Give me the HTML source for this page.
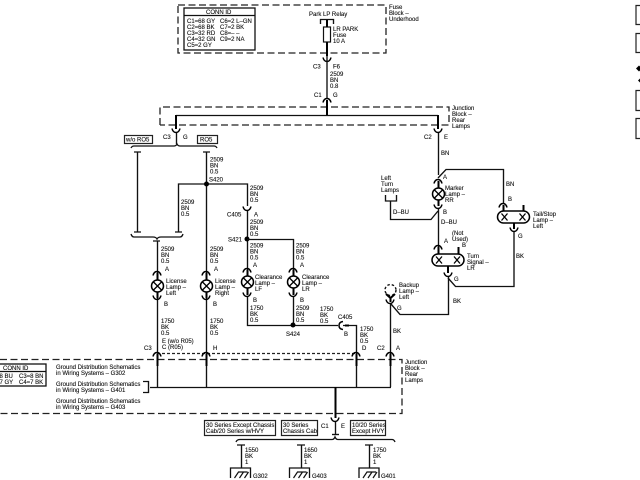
<!DOCTYPE html>
<html><head><meta charset="utf-8"><style>
html,body{margin:0;padding:0;background:#fff}
svg{display:block;filter:blur(.3px)}
text{font-family:"Liberation Sans",sans-serif;font-size:6px;fill:#111;stroke:#111;stroke-width:.12}
.w{fill:none;stroke:#111;stroke-width:1.35}
.t{fill:none;stroke:#000;stroke-width:2}
.d{fill:none;stroke:#222;stroke-width:1.3;stroke-dasharray:7 3.5}
.o{fill:none;stroke:#222;stroke-width:1.2}
</style></head><body>
<svg width="640" height="480" viewBox="0 0 640 480" xmlns="http://www.w3.org/2000/svg">
<defs>
<path id="u" d="M-4 -2.500Q-3 1.500 0 1.500Q3 1.500 4 -2.500" fill="none" stroke="#000" stroke-width="1.500"/>
<path id="n" d="M-4 2.500Q-3 -1.500 0 -1.500Q3 -1.500 4 2.500" fill="none" stroke="#000" stroke-width="1.500"/>
<g id="lamp"><circle r="6" fill="#fff" stroke="#000" stroke-width="1.500"/><path d="M-4 -4L4 4M4 -4L-4 4" stroke="#000" stroke-width="1.300"/></g>
<g id="gnd"><path d="M-10 10V0H10V10" fill="none" stroke="#111" stroke-width="1.300"/><path d="M-6 10L-2 4H7M-1 10L3 4M4 10L8 4" fill="none" stroke="#111" stroke-width="1.200"/></g>
<g id="dual"><rect x="-16" y="-6" width="32" height="12" rx="6" fill="#fff" stroke="#000" stroke-width="1.500"/><path d="M-12 -3.500L-6 3.500M-6 -3.500L-12 3.500M6 -3.500L12 3.500M12 -3.500L6 3.500" stroke="#000" stroke-width="1.300"/></g>
</defs>

<!-- fuse block -->
<path class="d" d="M178 5H386V53H178Z"/>
<rect x="184" y="8" width="71" height="42" fill="#fff" stroke="#111" stroke-width="1.300"/>
<path class="w" d="M184 15.500H255"/>
<text x="206" y="14">CONN ID</text>
<text x="187" y="23">C1=68 GY</text><text x="220" y="23">C6=2 L–GN</text>
<text x="187" y="29">C2=68 BK</text><text x="220" y="29">C7=2 BK</text>
<text x="187" y="35">C3=32 RD</text><text x="220" y="35">C8=– –</text>
<text x="187" y="41">C4=32 GN</text><text x="220" y="41">C9=2 NA</text>
<text x="187" y="47">C5=2 GY</text>
<text x="309" y="16">Park LP Relay</text>
<path class="w" d="M320.500 24V19.500H333.500V24M327 19V62"/>
<rect x="323.500" y="27" width="7" height="15" fill="#fff" stroke="#111" stroke-width="1.200"/>
<path class="t" d="M327 20V27M327 42V56"/>
<text x="333" y="31">LR PARK</text><text x="333" y="37">Fuse</text><text x="333" y="43">10 A</text>
<text x="389" y="9">Fuse</text><text x="389" y="15">Block –</text><text x="389" y="21">Underhood</text>
<use href="#u" x="327" y="60"/>
<path class="w" d="M327 61V99"/>
<text x="313" y="68.500">C3</text><text x="333" y="68.500">F6</text>
<text x="330" y="76">2509</text><text x="330" y="82">BN</text><text x="330" y="88">0.8</text>
<text x="314" y="97">C1</text><text x="333" y="97">G</text>
<use href="#n" x="327" y="100"/>

<!-- junction top -->
<path class="d" d="M160 125V107H449V125H160"/>
<path class="t" d="M327 100V115"/>
<path class="w" d="M176 115.500H438"/>
<path class="t" d="M176 115V129M438 115V129"/>
<use href="#u" x="176" y="131"/><use href="#u" x="438" y="131"/>
<path class="w" d="M176.500 133V144M438.500 133V175"/>
<text x="163" y="139">C3</text><text x="183" y="139">G</text>
<text x="424" y="139">C2</text><text x="444" y="139">E</text>
<text x="441" y="155">BN</text>
<text x="452" y="110">Junction</text><text x="452" y="116">Block –</text><text x="452" y="122">Rear</text><text x="452" y="128">Lamps</text>
<rect x="124.500" y="135.500" width="28" height="8" fill="#fff" stroke="#222" stroke-width="1.200"/>
<text x="126" y="141.500">w/o RO5</text>
<rect x="197.500" y="135.500" width="20" height="8" fill="#fff" stroke="#222" stroke-width="1.200"/>
<text x="200" y="141.500">RO5</text>
<path class="w" d="M131 148Q132 146 134 146H174Q176 146 177 144Q178 146 180 146H214Q216 146 217 148"/>

<!-- left branches -->
<path class="w" d="M134 152H141M137.500 152V232M134 232H141"/>
<path class="w" d="M203 152H210M206.500 152V355"/>
<path class="w" d="M178.500 232V184H247.500V206M175 232H182"/>
<circle cx="206.500" cy="184" r="2.500" fill="#000"/>
<text x="210" y="161.500">2509</text><text x="210" y="167.500">BN</text><text x="210" y="173.500">0.5</text>
<text x="209" y="181.500">S420</text>
<text x="181" y="204">2509</text><text x="181" y="210">BN</text><text x="181" y="216">0.5</text>
<text x="250" y="190">2509</text><text x="250" y="196">BN</text><text x="250" y="202">0.5</text>
<use href="#u" x="247" y="209"/>
<path class="w" d="M247.500 211V273"/>
<text x="227" y="216.500">C405</text><text x="254" y="216.500">A</text>
<text x="250" y="224">2509</text><text x="250" y="230">BN</text><text x="250" y="236">0.5</text>
<circle cx="247" cy="239" r="2.500" fill="#000"/>
<text x="228" y="241.500">S421</text>
<path class="w" d="M247 239.500H293.500V273"/>
<text x="250" y="247.500">2509</text><text x="250" y="253.500">BN</text><text x="250" y="259.500">0.5</text>
<text x="296" y="247.500">2509</text><text x="296" y="253.500">BN</text><text x="296" y="259.500">0.5</text>
<path class="w" d="M131 234Q132 237 134 237H153Q156 237 157 239Q158 237 161 237H180Q182 237 183 234"/>
<path class="w" d="M153 241H160M157.500 241V355"/>
<text x="161" y="251">2509</text><text x="161" y="257">BN</text><text x="161" y="263">0.5</text>
<text x="210" y="251">2509</text><text x="210" y="257">BN</text><text x="210" y="263">0.5</text>
<text x="165" y="271">A</text><text x="214" y="271">A</text><text x="253" y="267">A</text><text x="300" y="267">A</text>

<!-- lamps -->
<use href="#n" x="157" y="273"/><path class="t" d="M157.500 273V280M157.500 292V298"/><use href="#lamp" x="157.500" y="286"/><use href="#u" x="157" y="298"/>
<use href="#n" x="206" y="273"/><path class="t" d="M206.500 273V280M206.500 292V298"/><use href="#lamp" x="206.500" y="286"/><use href="#u" x="206" y="298"/>
<use href="#n" x="247" y="270"/><path class="t" d="M247.500 270V276M247.500 288V295"/><use href="#lamp" x="247.500" y="282"/><use href="#u" x="247" y="295"/>
<use href="#n" x="293" y="270"/><path class="t" d="M293.500 270V276M293.500 288V295"/><use href="#lamp" x="293.500" y="282"/><use href="#u" x="293" y="295"/>
<text x="166" y="283">License</text><text x="166" y="289">Lamp –</text><text x="166" y="295">Left</text>
<text x="215" y="283">License</text><text x="215" y="289">Lamp –</text><text x="215" y="295">Right</text>
<text x="255" y="279">Clearance</text><text x="255" y="285">Lamp –</text><text x="255" y="291">LF</text>
<text x="302" y="279">Clearance</text><text x="302" y="285">Lamp –</text><text x="302" y="291">LR</text>
<text x="164" y="306">B</text><text x="213" y="306">B</text><text x="253" y="302">B</text><text x="300" y="302">B</text>
<path class="w" d="M247.500 297V325.500H338M293.500 297V325"/>
<circle cx="293" cy="325" r="2.500" fill="#000"/>
<text x="250" y="310">1750</text><text x="250" y="316">BK</text><text x="250" y="322">0.5</text>
<text x="296" y="310">2509</text><text x="296" y="316">BN</text><text x="296" y="322">0.5</text>
<text x="320" y="311">1750</text><text x="320" y="317">BK</text><text x="320" y="323">0.5</text>
<text x="286" y="336">S424</text>
<text x="338" y="319">C405</text><text x="344" y="336">B</text>
<path d="M343 321.500Q339 322 339 325.500Q339 329 343 329.500" fill="none" stroke="#000" stroke-width="1.500"/>
<path class="w" d="M343 325.500H356.500V355"/>
<path class="t" d="M345 325.500H349"/>
<text x="161" y="323">1750</text><text x="161" y="329">BK</text><text x="161" y="335">0.5</text>
<text x="210" y="323">1750</text><text x="210" y="329">BK</text><text x="210" y="335">0.5</text>
<text x="360" y="331">1750</text><text x="360" y="337">BK</text><text x="360" y="343">0.5</text>
<text x="162" y="343">E (w/o R05)</text><text x="162" y="349">C (R05)</text>
<text x="144" y="350">C3</text><text x="213" y="350">H</text><text x="362" y="350">D</text>
<text x="377" y="350">C2</text><text x="396" y="350">A</text>

<!-- right column -->
<text x="381" y="180">Left</text><text x="381" y="186">Turn</text><text x="381" y="192">Lamps</text>
<path class="w" d="M385.500 195V201H396.500V195M390.500 201V219.500H431L438 211"/>
<text x="393" y="214">D–BU</text>
<path class="w" d="M438 178L446 169.500H503.500V203"/>
<use href="#n" x="438" y="181"/><path class="t" d="M438.500 181V188M438.500 200V206"/><use href="#lamp" x="438.500" y="194"/><use href="#u" x="438" y="207"/>
<text x="445" y="190">Marker</text><text x="445" y="196">Lamp –</text><text x="445" y="202">RR</text>
<text x="443" y="179">A</text><text x="443" y="214">B</text>
<text x="441" y="224">D–BU</text>
<path class="w" d="M438.500 209V247"/>
<text x="506" y="186">BN</text><text x="508" y="201">B</text>
<text x="452" y="235">(Not</text><text x="452" y="241">Used)</text>
<text x="444" y="243">A</text><text x="462" y="247">B</text>

<use href="#n" x="503" y="205"/>
<path class="t" d="M503.500 205V211M523.500 205V211"/>
<use href="#dual" x="513.500" y="217"/>
<path class="t" d="M514 223V229"/><use href="#u" x="514" y="230"/>
<text x="533" y="216">Tail/Stop</text><text x="533" y="222">Lamp –</text><text x="533" y="228">Left</text>
<text x="518" y="238">G</text><text x="516" y="258">BK</text>
<path class="w" d="M514 232V286.500H455.500L448 278"/>

<use href="#n" x="438" y="247"/>
<path class="t" d="M438.500 247V254M458.500 247V254"/>
<use href="#dual" x="448" y="260"/>
<path class="t" d="M448 266V273"/><use href="#u" x="448" y="275"/>
<text x="467" y="258">Turn</text><text x="467" y="264">Signal –</text><text x="467" y="270">LR</text>
<text x="454" y="281">G</text><text x="453" y="303">BK</text>
<path class="w" d="M448.500 277V314.500H400L391 304"/>

<circle cx="390.500" cy="290" r="5.500" fill="none" stroke="#111" stroke-width="1.400" stroke-dasharray="2.500 2"/>
<path class="t" d="M386 294L390.500 298L395 294M390.500 298V302"/>
<use href="#u" x="390" y="302"/>
<text x="399" y="287">Backup</text><text x="399" y="293">Lamp –</text><text x="399" y="299">Left</text>
<text x="397" y="310">G</text><text x="393" y="333">BK</text>
<path class="w" d="M390.500 304V355"/>

<!-- lower junction -->
<path class="o" d="M157 353.500H356" stroke-dasharray="3 2"/>
<path class="d" d="M0 359.500H402V413.500H0"/>
<use href="#n" x="157" y="354"/><use href="#n" x="206" y="354"/><use href="#n" x="356" y="354"/><use href="#n" x="390" y="354"/>
<path class="t" d="M157.500 354V366M206.500 354V366M356.500 354V366M390.500 354V366"/>
<path class="w" d="M157.500 366V387M206.500 366V387M356.500 366V387M390.500 366V387M150 387.500H391"/>
<path class="w" d="M143 381.500H148.500V392.500H143"/>
<rect x="-3" y="364" width="49" height="22" fill="#fff" stroke="#111" stroke-width="1.300"/>
<path class="w" d="M0 371.500H46"/>
<text x="3" y="370">CONN ID</text>
<text x="-4" y="378">=8 BU</text><text x="19" y="378">C3=8 BN</text>
<text x="-4" y="384">=7 GY</text><text x="19" y="384">C4=7 BK</text>
<text x="56" y="369">Ground Distribution Schematics</text><text x="56" y="375">in Wiring Systems – G302</text>
<text x="56" y="386">Ground Distribution Schematics</text><text x="56" y="392">in Wiring Systems – G401</text>
<text x="56" y="403">Ground Distribution Schematics</text><text x="56" y="409">in Wiring Systems – G403</text>
<text x="405" y="364">Junction</text><text x="405" y="370">Block –</text><text x="405" y="376">Rear</text><text x="405" y="382">Lamps</text>
<path class="t" d="M335.500 387V418"/>
<use href="#u" x="335" y="420"/>
<path class="w" d="M335.500 422V434"/>
<path class="w" d="M332 434.500H339"/>
<text x="321" y="428">C1</text><text x="341" y="428">E</text>
<rect x="204.500" y="420.500" width="71" height="15" fill="#fff" stroke="#222" stroke-width="1.200"/>
<text x="206" y="427">30 Series Except Chassis</text><text x="206" y="433">Cab/20 Series w/HVY</text>
<rect x="281.500" y="420.500" width="36" height="15" fill="#fff" stroke="#222" stroke-width="1.200"/>
<text x="283" y="427">30 Series</text><text x="283" y="433">Chassis Cab</text>
<rect x="350.500" y="420.500" width="35" height="15" fill="#fff" stroke="#222" stroke-width="1.200"/>
<text x="352" y="427">10/20 Series</text><text x="352" y="433">Except HVY</text>
<path class="w" d="M236 442Q237 439.500 240 439.500H332Q334 439.500 335 437Q336 439.500 338 439.500H392Q394 439.500 395 442"/>
<path class="w" d="M237 445H245M241.500 445V468M297 445H305M301.500 445V468M365 445H373M369.500 445V468"/>
<text x="245" y="452">1550</text><text x="245" y="458">BK</text><text x="245" y="464">1</text>
<text x="304" y="452">1650</text><text x="304" y="458">BK</text><text x="304" y="464">1</text>
<text x="373" y="452">1750</text><text x="373" y="458">BK</text><text x="373" y="464">1</text>
<use href="#gnd" x="240.500" y="468"/><use href="#gnd" x="299.500" y="468"/><use href="#gnd" x="369" y="468"/>
<text x="253" y="478">G302</text><text x="312" y="478">G403</text><text x="381" y="478">G401</text>

<!-- right edge -->
<path class="o" d="M641 5.500H636V24.500H641M641 33.500H636V52.500H641M641 90.500H636V110.500H641M641 118.500H636V138.500H641"/>
<path d="M636 68.500l3 -3 3 3 -3 3Z" fill="#000"/>
<path d="M638 80.500l3 -3 3 3 -3 3Z" fill="#000"/>
</svg>
</body></html>
